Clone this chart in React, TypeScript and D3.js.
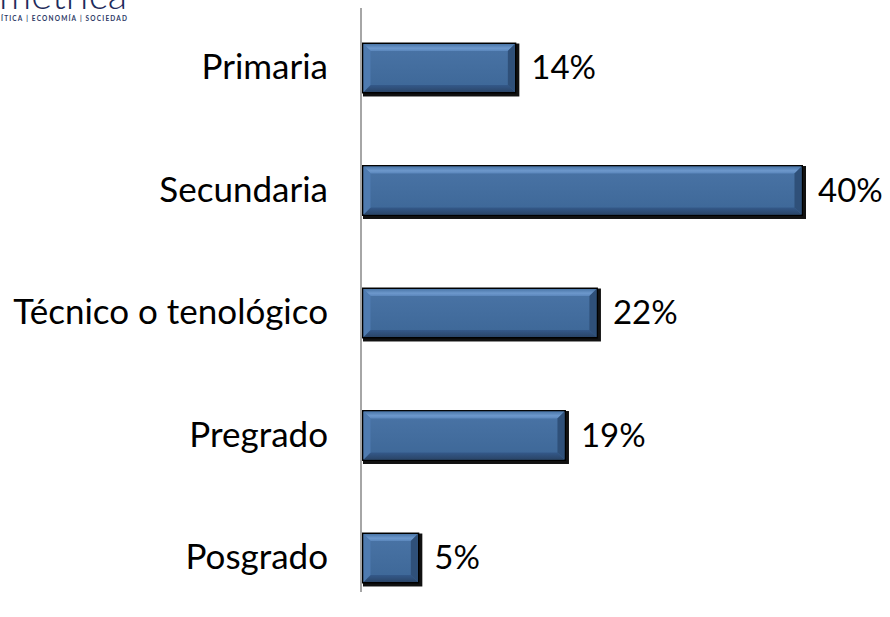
import React from "react";
import * as d3 from "d3";

const categories = ["Primaria", "Secundaria", "Técnico o tenológico", "Pregrado", "Posgrado"];
const values = [14, 40, 21.4, 18.5, 5.2];
const valueLabels = ["14%", "40%", "22%", "19%", "5%"];

const W = 890;
const H = 617;
const FONT = "Lato, 'Open Sans', sans-serif";

export default function App() {
  const x = d3.scaleLinear().domain([0, 40]).range([362, 803]);
  const y = d3
    .scaleBand<string>()
    .domain(categories)
    .range([6.75, 619.25])
    .paddingInner(0.584)
    .paddingOuter(0.292);
  const bw = y.bandwidth();
  const b = 7;

  return (
    <svg
      width={W}
      height={H}
      style={{ position: "absolute", left: 0, top: 0, background: "#fff", display: "block" }}
    >
      <defs>
        <linearGradient id="topBev" x1="0" y1="0" x2="0" y2="1">
          <stop offset="0" stopColor="#4a76a8" />
          <stop offset="0.6" stopColor="#6d98cc" />
          <stop offset="1" stopColor="#5a86bb" />
        </linearGradient>
        <linearGradient id="face" x1="0" y1="0" x2="0" y2="1">
          <stop offset="0" stopColor="#4a74a6" />
          <stop offset="1" stopColor="#3d6797" />
        </linearGradient>
        <linearGradient id="botBev" x1="0" y1="0" x2="0" y2="1">
          <stop offset="0" stopColor="#34598a" />
          <stop offset="1" stopColor="#2a4568" />
        </linearGradient>
      </defs>

      {/* logo fragment */}
      <text x={127} y={9} textAnchor="end" fontFamily={FONT} fontSize={40} fontWeight={300} fill="#1e2b5c">
        métrica
      </text>
      <text x={1} y={21} fontFamily={FONT} fontSize={6.5} fontWeight={700} fill="#2e3a66" letterSpacing={1.2}>
        ÍTICA | ECONOMÍA | SOCIEDAD
      </text>

      {categories.map((c, i) => {
        const x0 = x(0);
        const x1 = x(values[i]);
        const y0 = y(c)!;
        const y1 = y0 + bw;
        const cy = y0 + bw / 2;
        return (
          <g key={c}>
            <rect x={x0 + 1} y={y0 + 1} width={x1 - x0 + 2} height={bw + 2} fill="#111" />
            <rect x={x0} y={y0} width={x1 - x0} height={bw} fill="#000" />
            <rect x={x0 + 1.5} y={y0 + 1.5} width={x1 - x0 - 3} height={bw - 3} fill="url(#face)" />
            <polygon
              points={`${x0 + 1.5},${y0 + 1.5} ${x1 - 1.5},${y0 + 1.5} ${x1 - 1.5 - b},${y0 + 1.5 + b} ${x0 + 1.5 + b},${y0 + 1.5 + b}`}
              fill="url(#topBev)"
            />
            <polygon
              points={`${x0 + 1.5},${y1 - 1.5} ${x1 - 1.5},${y1 - 1.5} ${x1 - 1.5 - b},${y1 - 1.5 - b} ${x0 + 1.5 + b},${y1 - 1.5 - b}`}
              fill="url(#botBev)"
            />
            <polygon
              points={`${x0 + 1.5},${y0 + 1.5} ${x0 + 1.5 + b},${y0 + 1.5 + b} ${x0 + 1.5 + b},${y1 - 1.5 - b} ${x0 + 1.5},${y1 - 1.5}`}
              fill="#4f7bb0"
            />
            <polygon
              points={`${x1 - 1.5},${y0 + 1.5} ${x1 - 1.5 - b},${y0 + 1.5 + b} ${x1 - 1.5 - b},${y1 - 1.5 - b} ${x1 - 1.5},${y1 - 1.5}`}
              fill="#2f5079"
            />
            <text x={328} y={cy + 11} textAnchor="end" fontFamily={FONT} fontSize={35} fill="#000">
              {c}
            </text>
            <text x={x1 + 15} y={cy + 11} fontFamily={FONT} fontSize={33} fill="#000">
              {valueLabels[i]}
            </text>
          </g>
        );
      })}

      <line x1={361} x2={361} y1={8} y2={592} stroke="#a6a6a6" strokeWidth={2} />
    </svg>
  );
}
